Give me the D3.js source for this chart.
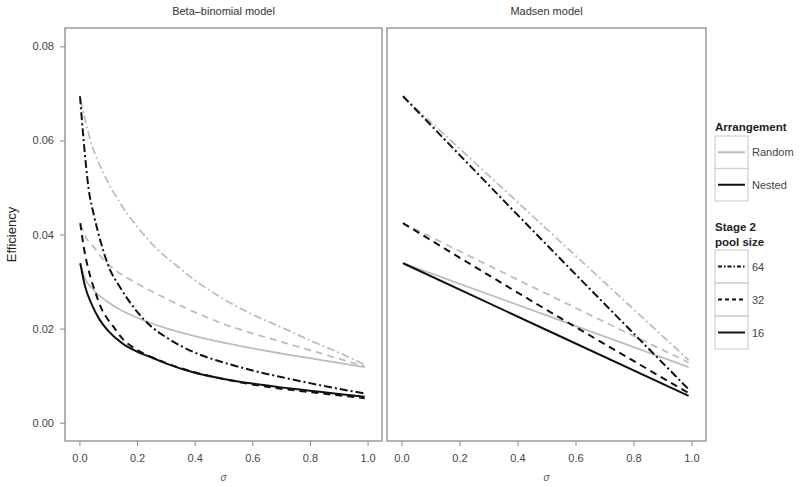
<!DOCTYPE html>
<html>
<head>
<meta charset="utf-8">
<script src="https://cdn.jsdelivr.net/npm/d3@7"></script>
<style>
  body { margin: 0; background: #fff; }
  text { font-family: "Liberation Sans", Arial, sans-serif; }
</style>
</head>
<body>
<div id="chart"></div>
<script>
// values (sigma, efficiency)
const panels = ["Beta\u2013binomial model", "Madsen model"];
const xTicks = [0, 0.2, 0.4, 0.6, 0.8, 1.0];
const yTicks = [0, 0.02, 0.04, 0.06, 0.08];

// Beta-binomial model
const bbNested64 = [[0.002,0.0694],[0.015,0.0598],[0.032,0.0497],[0.05,0.0442],[0.075,0.0382],[0.1,0.0334],[0.142,0.0287],[0.2,0.0236],[0.25,0.0204],[0.3,0.0182],[0.4,0.0149],[0.5,0.0128],[0.6,0.0111],[0.7,0.0097],[0.8,0.0084],[0.9,0.0072],[0.99,0.0062]];
const bbNested32 = [[0.003,0.0424],[0.015,0.0374],[0.038,0.0310],[0.055,0.0278],[0.073,0.0247],[0.095,0.0223],[0.118,0.0204],[0.153,0.0176],[0.2,0.0155],[0.3,0.0127],[0.4,0.0107],[0.5,0.0093],[0.6,0.0081],[0.7,0.0072],[0.8,0.0065],[0.9,0.0058],[0.99,0.0052]];
const bbNested16 = [[0.003,0.0339],[0.02,0.0289],[0.044,0.0250],[0.07,0.0219],[0.1,0.0195],[0.15,0.0168],[0.2,0.0151],[0.257,0.0137],[0.3,0.0126],[0.4,0.0106],[0.5,0.0093],[0.6,0.0083],[0.7,0.0075],[0.8,0.0068],[0.9,0.0061],[0.99,0.0055]];
const bbRandom64 = [[0.004,0.0686],[0.038,0.0601],[0.084,0.0530],[0.142,0.0466],[0.2,0.0417],[0.268,0.0370],[0.337,0.0334],[0.4,0.0303],[0.5,0.0263],[0.6,0.0230],[0.7,0.0203],[0.8,0.0175],[0.9,0.0149],[0.99,0.0123]];
const bbRandom32 = [[0.004,0.0422],[0.015,0.0403],[0.049,0.0374],[0.084,0.0346],[0.13,0.0322],[0.2,0.0296],[0.3,0.0264],[0.407,0.0233],[0.5,0.0210],[0.6,0.0190],[0.7,0.0172],[0.8,0.0154],[0.9,0.0136],[0.99,0.0120]];
const bbRandom16 = [[0.003,0.0339],[0.02,0.0306],[0.049,0.0282],[0.1,0.0256],[0.142,0.0240],[0.2,0.0223],[0.3,0.0201],[0.4,0.0184],[0.5,0.0170],[0.6,0.0158],[0.7,0.0147],[0.8,0.0137],[0.9,0.0127],[0.99,0.0118]];

// Madsen model
const mdNested64 = [[0.005,0.0694],[0.455,0.0407],[0.99,0.0071]];
const mdNested32 = [[0.005,0.0424],[0.478,0.0248],[0.99,0.0063]];
const mdNested16 = [[0.005,0.0339],[0.5,0.0197],[0.99,0.0057]];
const mdRandom64 = [[0.005,0.0694],[0.5,0.0412],[0.99,0.0133]];
const mdRandom32 = [[0.005,0.0424],[0.5,0.0274],[0.99,0.0128]];
const mdRandom16 = [[0.005,0.0339],[0.5,0.0228],[0.99,0.0118]];

const arrangeLabels = ["Random", "Nested"];
const poolLabels = ["64", "32", "16"];

const grey = "#bdbdbd", black = "#111";
const dashes = { "64": "8,3,2,3", "32": "7,5", "16": null };

const seriesByPanel = [
  [
    { d: bbRandom64, c: grey, p: "64" }, { d: bbRandom32, c: grey, p: "32" }, { d: bbRandom16, c: grey, p: "16" },
    { d: bbNested64, c: black, p: "64" }, { d: bbNested32, c: black, p: "32" }, { d: bbNested16, c: black, p: "16" }
  ],
  [
    { d: mdRandom64, c: grey, p: "64" }, { d: mdRandom32, c: grey, p: "32" }, { d: mdRandom16, c: grey, p: "16" },
    { d: mdNested64, c: black, p: "64" }, { d: mdNested32, c: black, p: "32" }, { d: mdNested16, c: black, p: "16" }
  ]
];

const W = 800, H = 487;
const plotTop = 28, plotBottom = 441;
const panelX = [[65, 382], [387, 706]];

const svg = d3.select("#chart").append("svg")
  .attr("width", W).attr("height", H);

const y = d3.scaleLinear().domain([-0.0039, 0.0839]).range([plotBottom, plotTop]);

panelX.forEach((px, i) => {
  const x = d3.scaleLinear().domain([-0.05, 1.05]).range(px);

  // title
  svg.append("text")
    .attr("x", (px[0] + px[1]) / 2).attr("y", 15)
    .attr("text-anchor", "middle")
    .attr("font-size", 11).attr("fill", "#333")
    .text(panels[i]);

  const line = d3.line()
    .x(d => x(d[0])).y(d => y(d[1]))
    .curve(d3.curveMonotoneX);

  const g = svg.append("g");
  seriesByPanel[i].forEach(s => {
    g.append("path")
      .attr("d", line(s.d))
      .attr("fill", "none")
      .attr("stroke", s.c)
      .attr("stroke-width", s.c === black ? 2 : 1.8)
      .attr("stroke-dasharray", dashes[s.p]);
  });

  // frame
  svg.append("rect")
    .attr("x", px[0]).attr("y", plotTop)
    .attr("width", px[1] - px[0]).attr("height", plotBottom - plotTop)
    .attr("fill", "none").attr("stroke", "#8a8a8a").attr("stroke-width", 1.3);

  // x axis
  const xa = svg.append("g")
    .attr("transform", `translate(0,${plotBottom})`)
    .call(d3.axisBottom(x).tickValues(xTicks).tickFormat(d3.format(".1f")).tickSize(5).tickPadding(8));
  xa.select(".domain").remove();
  xa.selectAll("line").attr("stroke", "#8a8a8a");
  xa.selectAll("text").attr("font-size", 11).attr("fill", "#444")
    .attr("font-family", "Liberation Sans, Arial, sans-serif");

  svg.append("text")
    .attr("x", x(0.5)).attr("y", 481)
    .attr("text-anchor", "middle")
    .attr("font-size", 10).attr("font-style", "italic").attr("fill", "#555")
    .attr("font-family", "DejaVu Serif, serif")
    .text("\u03c3");

  if (i === 0) {
    const ya = svg.append("g")
      .attr("transform", `translate(${px[0]},0)`)
      .call(d3.axisLeft(y).tickValues(yTicks).tickFormat(d3.format(".2f")).tickSize(5).tickPadding(6));
    ya.select(".domain").remove();
    ya.selectAll("line").attr("stroke", "#8a8a8a");
    ya.selectAll("text").attr("font-size", 11).attr("fill", "#444")
      .attr("font-family", "Liberation Sans, Arial, sans-serif");
  }
});

// y label
svg.append("text")
  .attr("transform", `translate(16,${(plotTop + plotBottom) / 2}) rotate(-90)`)
  .attr("text-anchor", "middle")
  .attr("font-size", 13).attr("fill", "#222")
  .text("Efficiency");

// legends
const lx = 715, lw = 33;
function legendBlock(titleLines, titleY, boxTop, rowH, rows) {
  titleLines.forEach((t, k) => {
    svg.append("text")
      .attr("x", lx).attr("y", titleY + k * 15)
      .attr("font-size", 11.5).attr("font-weight", "bold").attr("fill", "#222")
      .text(t);
  });
  rows.forEach((r, k) => {
    const ry = boxTop + k * rowH;
    svg.append("rect")
      .attr("x", lx).attr("y", ry).attr("width", lw).attr("height", rowH)
      .attr("fill", "none").attr("stroke", "#cfcfcf").attr("stroke-width", 1.2);
    svg.append("line")
      .attr("x1", lx + 3).attr("x2", lx + lw - 3)
      .attr("y1", ry + rowH / 2).attr("y2", ry + rowH / 2)
      .attr("stroke", r.c).attr("stroke-width", 2)
      .attr("stroke-dasharray", r.dash);
    svg.append("text")
      .attr("x", lx + lw + 4).attr("y", ry + rowH / 2 + 4)
      .attr("font-size", 11).attr("fill", "#444")
      .text(r.label);
  });
}

legendBlock(["Arrangement"], 131, 136, 32.5, [
  { label: arrangeLabels[0], c: grey, dash: null },
  { label: arrangeLabels[1], c: black, dash: null }
]);

legendBlock(["Stage 2", "pool size"], 231, 250, 33, poolLabels.map(p => ({
  label: p, c: black, dash: dashes[p] ? (p === "64" ? "4,2,1.5,2" : "4,3") : null
})));
</script>
</body>
</html>
